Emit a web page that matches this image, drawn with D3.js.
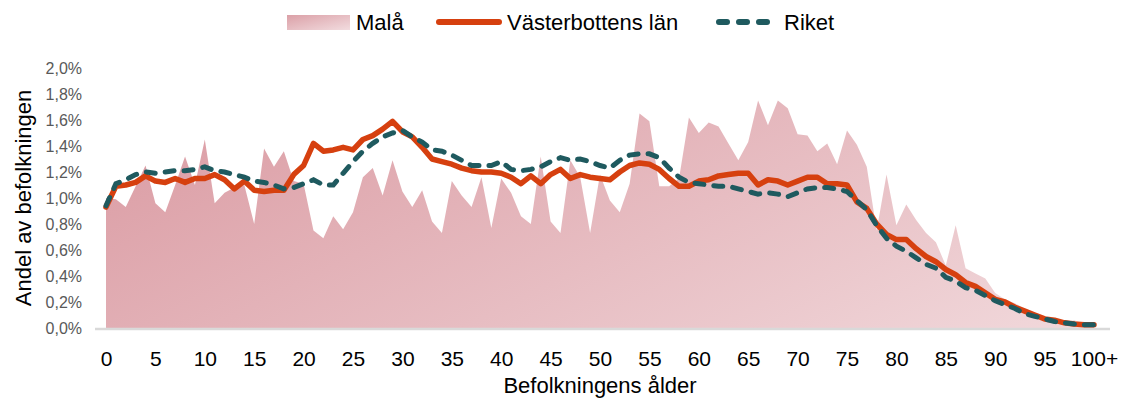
<!DOCTYPE html>
<html>
<head>
<meta charset="utf-8">
<script src="https://cdn.jsdelivr.net/npm/d3@7"></script>
<style>
    body { margin: 0; background: #fff; }
    text { font-family: "Liberation Sans", Arial, sans-serif; }
</style>
</head>
<body>
<div id="chart"></div>
<script>
// --------- DATA ---------

// ages 0..100 (last one is 100+)
const ages = d3.range(0, 101);
const tickAges = d3.range(0, 101, 5);
const tickLabels = tickAges.map(a => a === 100 ? "100+" : String(a));
const yTicks = [0, 0.2, 0.4, 0.6, 0.8, 1.0, 1.2, 1.4, 1.6, 1.8, 2.0];

// share of population per age, in percent
const mala = [
    1.00, 0.99, 0.93, 1.09, 1.25, 0.96, 0.89, 1.10, 1.32, 1.10,
    1.45, 0.96, 1.04, 1.08, 1.10, 0.80, 1.38, 1.24, 1.36, 1.13,
    1.11, 0.75, 0.69, 0.86, 0.76, 0.89, 1.16, 1.23, 1.02, 1.29,
    1.05, 0.93, 1.06, 0.82, 0.73, 1.13, 1.02, 0.93, 1.16, 0.77,
    1.15, 1.04, 0.86, 0.80, 1.32, 0.82, 0.73, 1.29, 1.16, 0.73,
    1.18, 0.98, 0.89, 1.11, 1.65, 1.59, 1.09, 1.09, 1.15, 1.62,
    1.50, 1.58, 1.55, 1.42, 1.29, 1.43, 1.75, 1.56, 1.75, 1.69,
    1.49, 1.48, 1.36, 1.42, 1.26, 1.52, 1.41, 1.24, 0.75, 1.18,
    0.79, 0.95, 0.83, 0.73, 0.66, 0.48, 0.79, 0.46, 0.42, 0.38,
    0.27, 0.22, 0.19, 0.15, 0.12, 0.09, 0.07, 0.05, 0.06, 0.03,
    0.03
];

const vasterbotten = [
    0.93, 1.09, 1.10, 1.12, 1.17, 1.13, 1.12, 1.15, 1.12, 1.15,
    1.15, 1.18, 1.14, 1.07, 1.13, 1.06, 1.05, 1.06, 1.06, 1.18,
    1.25, 1.42, 1.36, 1.37, 1.39, 1.37, 1.45, 1.48, 1.53, 1.59,
    1.51, 1.47, 1.39, 1.30, 1.28, 1.26, 1.23, 1.21, 1.20, 1.20,
    1.19, 1.16, 1.11, 1.17, 1.11, 1.18, 1.22, 1.15, 1.18, 1.16,
    1.15, 1.14, 1.20, 1.25, 1.27, 1.26, 1.22, 1.15, 1.09, 1.09,
    1.13, 1.14, 1.17, 1.18, 1.19, 1.19, 1.10, 1.14, 1.13, 1.10,
    1.13, 1.16, 1.16, 1.11, 1.11, 1.10, 0.97, 0.92, 0.80, 0.72,
    0.68, 0.68, 0.61, 0.55, 0.51, 0.45, 0.41, 0.35, 0.32, 0.27,
    0.22, 0.20, 0.16, 0.13, 0.10, 0.07, 0.06, 0.04, 0.03, 0.025,
    0.025
];

const riket = [
    0.94, 1.11, 1.14, 1.18, 1.20, 1.19, 1.20, 1.21, 1.21, 1.22,
    1.24, 1.21, 1.20, 1.18, 1.16, 1.13, 1.12, 1.10, 1.07, 1.08,
    1.11, 1.14, 1.10, 1.10, 1.19, 1.28, 1.36, 1.42, 1.47, 1.50,
    1.52, 1.47, 1.43, 1.37, 1.36, 1.33, 1.29, 1.25, 1.25, 1.25,
    1.28, 1.22, 1.21, 1.22, 1.24, 1.28, 1.31, 1.29, 1.30, 1.28,
    1.25, 1.23, 1.29, 1.33, 1.34, 1.34, 1.31, 1.23, 1.16, 1.12,
    1.11, 1.10, 1.09, 1.09, 1.07, 1.05, 1.03, 1.04, 1.03, 1.01,
    1.04, 1.07, 1.08, 1.08, 1.07, 1.05, 0.98, 0.91, 0.79, 0.69,
    0.63, 0.59, 0.54, 0.49, 0.46, 0.39, 0.36, 0.31, 0.29, 0.25,
    0.21, 0.18, 0.15, 0.11, 0.09, 0.07, 0.05, 0.04, 0.03, 0.025,
    0.025
];

const legendItems = ["Malå", "Västerbottens län", "Riket"];

// --------- CHART ---------

const W = 1121, H = 400;
let margin = {top: 68, right: 27, bottom: 72, left: 106},
    width = 1094 - margin.left,
    height = 328 - margin.top;

let svg = d3.select("#chart")
    .append("svg")
    .attr("width", W)
    .attr("height", H);

let defs = svg.append("defs");
let grad = defs.append("linearGradient")
    .attr("id", "malaFill")
    .attr("gradientUnits", "userSpaceOnUse")
    .attr("x1", 0).attr("y1", 0)
    .attr("x2", 300).attr("y2", 600);
grad.append("stop").attr("offset", "0%").attr("stop-color", "#d9979f");
grad.append("stop").attr("offset", "100%").attr("stop-color", "#f1d8db");

let graph = svg.append("g")
    .attr("transform", "translate(" + margin.left + "," + margin.top + ")");

let xScale = d3.scalePoint()
    .domain(ages)
    .range([0, width]);

let yScale = d3.scaleLinear()
    .domain([0, 2.0])
    .range([height, 0]);

const fmt = d3.formatLocale({decimal: ",", thousands: " ", grouping: [3], currency: ["", ""]}).format(".1f");

// Malå area
let area = d3.area()
    .x((d, i) => xScale(ages[i]))
    .y0(height)
    .y1(d => yScale(d));

graph.append("path")
    .attr("fill", "url(#malaFill)")
    .attr("d", area(mala));

// baseline
graph.append("line")
    .attr("x1", -11).attr("x2", width + 16)
    .attr("y1", height + 1).attr("y2", height + 1)
    .attr("stroke", "#d9d9d9")
    .attr("stroke-width", 2.5);

// lines
let line = d3.line()
    .x((d, i) => xScale(ages[i]))
    .y(d => yScale(d));

graph.append("path")
    .attr("fill", "none")
    .attr("stroke", "#d6400f")
    .attr("stroke-width", 5.5)
    .attr("stroke-linejoin", "round")
    .attr("stroke-linecap", "round")
    .attr("d", line(vasterbotten));

graph.append("path")
    .attr("fill", "none")
    .attr("stroke", "#1f5a5f")
    .attr("stroke-width", 5)
    .attr("stroke-linecap", "round")
    .attr("stroke-dasharray", "9,10")
    .attr("d", line(riket));

// y axis labels
let yAxis = d3.axisLeft(yScale)
    .tickValues(yTicks)
    .tickFormat(d => fmt(d) + "%")
    .tickSize(0)
    .tickPadding(24);

graph.append("g")
    .call(yAxis)
    .call(g => g.select(".domain").remove())
    .selectAll("text")
    .attr("fill", "#595959")
    .style("font-size", "16px");

// x axis labels
let xAxis = d3.axisBottom(xScale)
    .tickValues(tickAges)
    .tickFormat((d, i) => tickLabels[i])
    .tickSize(0)
    .tickPadding(23);

graph.append("g")
    .attr("transform", "translate(0," + height + ")")
    .call(xAxis)
    .call(g => g.select(".domain").remove())
    .selectAll("text")
    .attr("fill", "#000")
    .style("font-size", "21px");

// axis titles
svg.append("text")
    .attr("x", 600).attr("y", 393)
    .attr("text-anchor", "middle")
    .style("font-size", "22px")
    .text("Befolkningens ålder");

svg.append("text")
    .attr("transform", "translate(31,198) rotate(-90)")
    .attr("text-anchor", "middle")
    .style("font-size", "22px")
    .text("Andel av befolkningen");

// legend
let lgrad = defs.append("linearGradient")
    .attr("id", "legendFill")
    .attr("x1", 0).attr("y1", 0).attr("x2", 1).attr("y2", 1);
lgrad.append("stop").attr("offset", "0%").attr("stop-color", "#dba0a7");
lgrad.append("stop").attr("offset", "100%").attr("stop-color", "#f2dcdf");

let legend = svg.append("g").attr("class", "legend");

legend.append("rect")
    .attr("x", 287).attr("y", 15)
    .attr("width", 63).attr("height", 15)
    .attr("fill", "url(#legendFill)");

legend.append("line")
    .attr("x1", 439).attr("x2", 499)
    .attr("y1", 22).attr("y2", 22)
    .attr("stroke", "#d6400f")
    .attr("stroke-width", 6)
    .attr("stroke-linecap", "round");

legend.append("line")
    .attr("x1", 719).attr("x2", 776)
    .attr("y1", 22).attr("y2", 22)
    .attr("stroke", "#1f5a5f")
    .attr("stroke-width", 6)
    .attr("stroke-linecap", "round")
    .attr("stroke-dasharray", "8,12");

const legendX = [356, 507, 784];
legend.selectAll("text.item")
    .data(legendItems)
    .enter().append("text")
    .attr("class", "item")
    .attr("x", (d, i) => legendX[i])
    .attr("y", 30)
    .style("font-size", "22px")
    .text(d => d);
</script>
</body>
</html>
